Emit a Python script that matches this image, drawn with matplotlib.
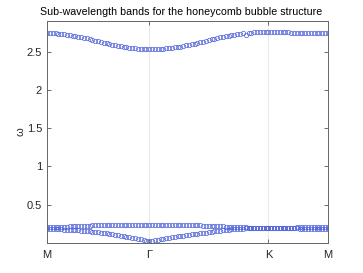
import numpy as np
import matplotlib.pyplot as plt

# k-point labels along the path M - Gamma - K - M (index of sample on the path)
tick_idx = [0, 36, 78, 99]
tick_lab = ['M', 'Γ', 'K', 'M']

# upper band
band3 = [2.740, 2.740, 2.739, 2.737, 2.734, 2.731, 2.727, 2.722, 2.716, 2.710,
         2.703, 2.696, 2.688, 2.680, 2.672, 2.663, 2.654, 2.645, 2.636, 2.627,
         2.618, 2.609, 2.600, 2.592, 2.584, 2.576, 2.569, 2.562, 2.556, 2.550,
         2.545, 2.541, 2.537, 2.534, 2.532, 2.531, 2.530, 2.530, 2.531, 2.533,
         2.535, 2.538, 2.541, 2.545, 2.550, 2.555, 2.561, 2.567, 2.574, 2.581,
         2.589, 2.597, 2.605, 2.614, 2.623, 2.632, 2.641, 2.650, 2.659, 2.668,
         2.677, 2.686, 2.694, 2.702, 2.709, 2.716, 2.722, 2.728, 2.733, 2.737,
         2.722, 2.745, 2.750, 2.753, 2.756, 2.758, 2.759, 2.760, 2.760, 2.760,
         2.760, 2.759, 2.758, 2.756, 2.754, 2.752, 2.750, 2.748, 2.747, 2.746,
         2.745, 2.744, 2.743, 2.742, 2.742, 2.741, 2.741, 2.740, 2.740, 2.740]

# second sub-wavelength band
band2 = [0.205, 0.205, 0.206, 0.207, 0.208, 0.210, 0.212, 0.214, 0.217, 0.219,
         0.221, 0.223, 0.225, 0.226, 0.227, 0.228, 0.229, 0.229, 0.229, 0.229,
         0.229, 0.230, 0.230, 0.230, 0.230, 0.230, 0.230, 0.230, 0.230, 0.230,
         0.230, 0.230, 0.230, 0.230, 0.230, 0.230, 0.230, 0.230, 0.230, 0.230,
         0.230, 0.230, 0.230, 0.230, 0.230, 0.230, 0.230, 0.230, 0.230, 0.230,
         0.230, 0.230, 0.230, 0.229, 0.229, 0.228, 0.227, 0.226, 0.225, 0.223,
         0.221, 0.219, 0.217, 0.215, 0.213, 0.211, 0.209, 0.207, 0.205, 0.204,
         0.203, 0.202, 0.201, 0.200, 0.199, 0.199, 0.199, 0.199, 0.199, 0.199,
         0.199, 0.199, 0.199, 0.199, 0.199, 0.200, 0.201, 0.202, 0.203, 0.204,
         0.205, 0.205, 0.205, 0.205, 0.205, 0.205, 0.205, 0.205, 0.205, 0.205]

# first sub-wavelength band
band1 = [0.180, 0.180, 0.179, 0.178, 0.177, 0.176, 0.175, 0.173, 0.171, 0.169,
         0.167, 0.164, 0.161, 0.158, 0.155, 0.151, 0.147, 0.143, 0.139, 0.134,
         0.129, 0.124, 0.119, 0.113, 0.107, 0.101, 0.095, 0.089, 0.082, 0.075,
         0.068, 0.061, 0.053, 0.046, 0.038, 0.030, 0.024, 0.030, 0.037, 0.044,
         0.050, 0.056, 0.062, 0.068, 0.074, 0.080, 0.085, 0.091, 0.096, 0.101,
         0.106, 0.111, 0.116, 0.121, 0.126, 0.131, 0.136, 0.141, 0.146, 0.151,
         0.156, 0.161, 0.166, 0.170, 0.174, 0.178, 0.181, 0.184, 0.187, 0.189,
         0.191, 0.193, 0.195, 0.197, 0.199, 0.199, 0.199, 0.199, 0.199, 0.199,
         0.199, 0.199, 0.199, 0.199, 0.199, 0.197, 0.195, 0.193, 0.191, 0.189,
         0.187, 0.185, 0.183, 0.182, 0.181, 0.181, 0.180, 0.180, 0.180, 0.180]

plt.rcParams['font.family'] = ['Liberation Sans', 'DejaVu Sans']

fig = plt.figure(figsize=(3.63, 2.73), dpi=100)
ax = fig.add_axes([0.1295, 0.110, 0.774, 0.813])

k = np.arange(len(band1))
for b in (band1, band2, band3):
    ax.plot(k, b, 'o', ms=3.2, mfc='none', mec='#5064d8', mew=0.5)

ax.set_xlim(tick_idx[0], tick_idx[-1])
ax.set_ylim(0, 2.9)
ax.set_xticks(tick_idx)
ax.set_xticklabels(tick_lab)
ax.set_yticks([0.5, 1, 1.5, 2, 2.5])
ax.set_yticklabels(['0.5', '1', '1.5', '2', '2.5'])
ax.grid(True, axis='x', color='#e4e4e4', lw=0.6)
ax.set_axisbelow(True)
ax.tick_params(direction='in', length=3, width=0.6, color='#555555',
               labelsize=8, labelcolor='#262626', top=True, right=True)
ax.tick_params(axis='x', pad=5)
for s in ax.spines.values():
    s.set_color('#666666')
    s.set_linewidth(0.7)

ax.set_ylabel('ω', fontsize=8, color='#262626', labelpad=1)
ax.set_title('Sub-wavelength bands for the honeycomb bubble structure',
             fontsize=7.7, color='black', pad=4, x=0.478)

fig.savefig('out.png', dpi=100)
